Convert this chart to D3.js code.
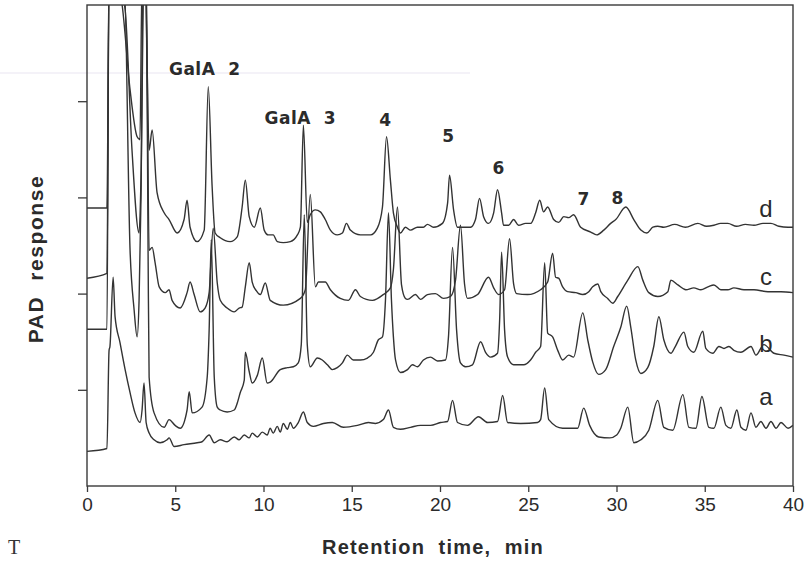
<!DOCTYPE html>
<html>
<head>
<meta charset="utf-8">
<script src="https://cdn.jsdelivr.net/npm/d3@7"></script>
<style>
  body { margin: 0; background: #fff; }
  svg { display: block; }
</style>
</head>
<body>
<svg id="grafico" width="805" height="564"></svg>
<script>
// x axis ticks (min) and the unlabeled response ticks
const timeTicks = [0, 5, 10, 15, 20, 25, 30, 35, 40];
const responseTicks = [1, 2, 3, 4];

// chromatograms, [retention time (min), PAD response (arb.)]
const traceA = [[0,0.36],[1.13,0.39],[1.25,1.41],[1.30,1.45],[1.48,2.17],[1.59,1.76],[1.87,1.49],[2.16,1.21],[2.44,0.97],[2.72,0.76],[3.01,0.66],[3.12,0.79],[3.23,1.07],[3.35,0.66],[3.52,0.55],[3.80,0.48],[4.14,0.45],[4.54,0.48],[4.65,0.50],[4.94,0.41],[5.50,0.43],[6.24,0.45],[6.52,0.46],[6.92,0.53],[7.21,0.45],[7.55,0.48],[7.94,0.46],[8.34,0.51],[8.62,0.48],[8.91,0.53],[9.19,0.50],[9.36,0.55],[9.65,0.51],[9.93,0.56],[10.21,0.53],[10.38,0.60],[10.55,0.55],[10.78,0.62],[10.95,0.56],[11.12,0.65],[11.35,0.59],[11.52,0.66],[11.69,0.60],[11.97,0.66],[12.26,0.77],[12.48,0.66],[12.82,0.62],[13.39,0.65],[13.90,0.66],[14.52,0.61],[15.32,0.63],[15.94,0.66],[16.34,0.65],[16.79,0.69],[17.08,0.79],[17.36,0.61],[17.76,0.59],[18.33,0.61],[18.89,0.63],[19.46,0.63],[20.03,0.66],[20.43,0.67],[20.71,0.89],[20.99,0.66],[21.56,0.63],[22.18,0.72],[22.70,0.66],[23.26,0.67],[23.55,0.94],[23.83,0.66],[24.57,0.65],[25.53,0.66],[25.70,0.69],[25.93,1.02],[26.16,0.69],[26.95,0.60],[27.80,0.60],[28.14,0.81],[28.48,0.63],[28.99,0.51],[29.62,0.50],[30.01,0.53],[30.24,0.60],[30.64,0.82],[30.98,0.45],[31.38,0.48],[31.83,0.58],[32.34,0.89],[32.68,0.61],[33.19,0.58],[33.76,0.95],[34.10,0.61],[34.50,0.60],[34.84,0.93],[35.23,0.61],[35.52,0.60],[35.91,0.82],[36.20,0.63],[36.48,0.60],[36.82,0.79],[37.05,0.61],[37.33,0.58],[37.62,0.76],[37.90,0.61],[38.18,0.67],[38.47,0.60],[38.75,0.67],[39.04,0.60],[39.32,0.66],[39.72,0.60],[40,0.63]];

const traceB = [[0,1.63],[1.13,1.63],[1.25,5.3],[1.87,5.3],[2.10,5.3],[2.44,2.45],[2.67,1.83],[2.84,1.55],[2.95,1.93],[3.06,3.0],[3.18,5.3],[3.35,5.3],[3.46,2.45],[3.52,1.13],[3.80,0.76],[4.37,0.61],[4.65,0.69],[4.99,0.63],[5.28,0.60],[5.67,0.79],[5.79,0.98],[5.96,0.76],[6.52,0.82],[6.81,1.13],[6.92,1.62],[7.04,2.56],[7.21,1.13],[7.38,0.82],[7.55,0.79],[7.94,0.77],[8.34,0.79],[8.51,0.86],[8.68,0.97],[8.91,1.10],[8.97,1.39],[9.19,1.19],[9.36,1.07],[9.65,1.15],[9.93,1.33],[10.21,1.07],[10.38,1.08],[10.95,1.21],[11.35,1.23],[11.69,1.24],[11.97,1.28],[12.14,1.47],[12.31,2.82],[12.48,1.47],[12.65,1.24],[13.05,1.33],[13.33,1.31],[13.62,1.26],[13.90,1.21],[14.18,1.23],[14.47,1.28],[14.75,1.36],[15.09,1.31],[15.49,1.31],[15.89,1.33],[16.23,1.39],[16.51,1.52],[16.74,1.55],[16.91,1.93],[17.08,2.84],[17.25,1.93],[17.36,1.55],[17.48,1.31],[17.76,1.18],[18.16,1.21],[18.44,1.26],[18.72,1.24],[19.06,1.31],[19.46,1.34],[19.86,1.30],[20.31,1.31],[20.48,1.55],[20.71,2.48],[20.94,1.62],[21.16,1.28],[21.45,1.24],[21.84,1.26],[22.30,1.50],[22.58,1.39],[22.87,1.34],[23.26,1.38],[23.38,1.73],[23.49,2.43],[23.66,1.62],[23.83,1.34],[24.17,1.26],[24.74,1.26],[25.13,1.31],[25.42,1.39],[25.70,1.45],[25.93,2.32],[26.10,1.59],[26.38,1.55],[26.67,1.41],[26.95,1.31],[27.29,1.36],[27.57,1.34],[28.09,1.80],[28.37,1.52],[28.65,1.29],[28.99,1.16],[29.39,1.21],[29.84,1.45],[30.24,1.65],[30.58,1.87],[30.81,1.65],[31.09,1.31],[31.38,1.17],[31.77,1.23],[32.11,1.45],[32.40,1.76],[32.68,1.52],[33.08,1.38],[33.33,1.45],[33.82,1.60],[34.04,1.45],[34.38,1.39],[34.89,1.61],[35.06,1.43],[35.46,1.38],[35.80,1.45],[36.09,1.43],[36.37,1.45],[36.65,1.41],[37.05,1.39],[37.62,1.45],[37.90,1.36],[38.35,1.47],[38.92,1.38],[39.49,1.36],[40,1.34]];

const traceC = [[0,2.16],[1.13,2.21],[1.25,5.3],[1.70,5.3],[2.16,4.95],[2.55,3.49],[2.95,2.63],[3.06,3.2],[3.23,5.3],[3.35,5.3],[3.52,2.45],[3.69,2.48],[3.86,2.32],[4.09,2.07],[4.43,2.01],[4.65,2.04],[4.82,1.93],[5.28,1.85],[5.67,2.01],[5.84,2.12],[6.07,1.99],[6.41,1.81],[6.69,1.85],[6.92,2.01],[7.15,2.68],[7.38,2.11],[7.55,1.93],[7.94,1.85],[8.34,1.81],[8.62,1.85],[8.79,1.86],[8.97,2.07],[9.19,2.32],[9.36,2.12],[9.59,2.03],[9.82,1.99],[10.10,2.11],[10.38,1.93],[11.12,1.88],[12.09,1.95],[12.37,2.04],[12.65,3.03],[12.94,2.07],[13.11,2.12],[13.50,2.12],[13.79,2.04],[14.35,1.95],[14.81,1.93],[15.21,2.04],[15.49,1.97],[16.17,1.93],[16.79,1.99],[17.19,2.06],[17.36,2.25],[17.59,2.90],[17.82,2.09],[18.04,1.95],[18.16,1.94],[18.61,1.99],[18.89,1.94],[19.29,1.99],[19.74,2.00],[20.20,1.95],[20.60,1.97],[20.88,2.14],[21.16,2.71],[21.39,2.10],[21.56,1.95],[22.13,1.99],[22.75,2.17],[23.04,2.06],[23.32,1.99],[23.66,2.04],[23.94,2.57],[24.17,2.10],[24.34,2.00],[24.96,1.99],[25.70,2.04],[26.10,2.12],[26.38,2.42],[26.55,2.17],[26.72,2.16],[26.95,2.07],[27.23,2.02],[27.69,2.01],[28.09,1.99],[28.43,2.02],[28.65,2.07],[28.94,2.10],[29.11,2.02],[29.50,1.95],[29.79,1.90],[30.07,1.97],[30.64,2.14],[31.21,2.28],[31.49,2.14],[31.83,2.01],[32.34,1.97],[32.91,2.02],[33.08,2.14],[33.48,2.09],[33.93,2.04],[34.38,2.06],[34.78,2.04],[35.18,2.07],[35.52,2.09],[35.91,2.04],[36.31,2.04],[36.65,2.06],[37.22,2.04],[37.79,2.04],[38.58,2.02],[39.32,2.02],[40,2.01]];

const traceD = [[0,2.89],[1.13,2.89],[1.25,5.3],[1.65,5.3],[1.99,5.0],[2.44,4.12],[2.84,3.63],[3.00,3.60],[3.12,5.3],[3.29,5.3],[3.52,3.49],[3.69,3.70],[3.97,3.05],[4.37,2.84],[4.65,2.77],[5.11,2.63],[5.50,2.77],[5.67,2.97],[5.84,2.69],[6.24,2.54],[6.64,2.66],[6.87,4.15],[7.09,3.11],[7.26,2.63],[7.55,2.58],[8.11,2.54],[8.51,2.59],[8.79,2.90],[8.97,3.18],[9.19,2.80],[9.48,2.69],[9.82,2.89],[10.04,2.66],[10.27,2.61],[10.55,2.61],[10.78,2.54],[11.12,2.53],[11.52,2.54],[11.92,2.61],[12.09,2.69],[12.26,3.75],[12.48,2.74],[12.65,2.82],[12.94,2.87],[13.22,2.85],[13.50,2.77],[13.79,2.66],[14.18,2.61],[14.47,2.63],[14.70,2.73],[14.92,2.66],[15.49,2.61],[16.06,2.61],[16.45,2.68],[16.74,2.90],[16.97,3.63],[17.19,3.18],[17.36,2.84],[17.59,2.69],[17.76,2.63],[18.04,2.69],[18.33,2.66],[18.72,2.69],[19.06,2.69],[19.29,2.72],[19.63,2.69],[20.14,2.73],[20.43,2.94],[20.54,3.23],[20.77,2.87],[20.99,2.69],[21.73,2.69],[22.01,2.77],[22.24,2.99],[22.47,2.80],[22.75,2.73],[23.04,2.84],[23.26,3.08],[23.49,2.84],[23.60,2.71],[23.89,2.71],[24.17,2.77],[24.45,2.71],[24.85,2.73],[25.14,2.73],[25.42,2.84],[25.65,2.97],[25.87,2.85],[26.10,2.90],[26.44,2.77],[26.72,2.74],[27.01,2.80],[27.29,2.79],[27.57,2.82],[27.97,2.69],[28.54,2.64],[28.88,2.61],[29.28,2.66],[29.67,2.73],[29.96,2.77],[30.53,2.90],[30.98,2.77],[31.38,2.66],[31.72,2.63],[32.06,2.69],[32.34,2.70],[32.68,2.69],[33.3,2.72],[33.9,2.69],[34.61,2.73],[35.1,2.70],[35.52,2.71],[35.9,2.73],[36.31,2.73],[36.8,2.70],[37.3,2.72],[37.79,2.71],[38.3,2.73],[38.75,2.73],[39.2,2.70],[39.72,2.69],[40,2.69]];

const traceNames = ["a", "b", "c", "d"];
const traceNameTime = 38.47;
const traceNameLevel = [0.84, 1.39, 2.09, 2.80];

// peak annotations: text, retention time of label centre, response of baseline
const peakLabels = [
    { text: "GalA  2", t: 6.67, v: 4.27 },
    { text: "GalA  3", t: 12.09, v: 3.76 },
    { text: "4", t: 16.91, v: 3.74 },
    { text: "5", t: 20.48, v: 3.58 },
    { text: "6", t: 23.32, v: 3.24 },
    { text: "7", t: 28.14, v: 2.92 },
    { text: "8", t: 30.07, v: 2.93 }
];

desenharGrafico();

function desenharGrafico() {
    const margin = { top: 5, right: 12, bottom: 78, left: 87 };
    const width = 805 - margin.left - margin.right;
    const height = 564 - margin.top - margin.bottom;

    const xScale = d3.scaleLinear().domain([0, 40]).range([0, width]);
    const yScale = d3.scaleLinear().domain([0, 5]).range([height, 0]);

    const svg = d3.select("#grafico");

    // faint scan line across the top of the page
    svg.append("line")
        .attr("x1", 0).attr("x2", 470)
        .attr("y1", 73).attr("y2", 73)
        .attr("stroke", "#f0eef6")
        .attr("stroke-width", 1.5);

    const g = svg.append("g")
        .attr("transform", `translate(${margin.left}, ${margin.top})`);

    g.append("clipPath").attr("id", "area")
        .append("rect")
        .attr("width", width).attr("height", height);

    const line = d3.line()
        .x(d => xScale(d[0]))
        .y(d => yScale(d[1]))
        .curve(d3.curveMonotoneX);

    const traces = [traceA, traceB, traceC, traceD];

    g.append("g")
        .attr("clip-path", "url(#area)")
        .selectAll("path")
        .data(traces)
        .enter()
        .append("path")
        .attr("d", line)
        .attr("fill", "none")
        .attr("stroke", "#333")
        .attr("stroke-width", 1.4)
        .attr("stroke-linejoin", "round");

    // frame
    g.append("rect")
        .attr("width", width).attr("height", height)
        .attr("fill", "none")
        .attr("stroke", "#3a3a3a")
        .attr("stroke-width", 1.4);

    const xAxis = d3.axisBottom(xScale)
        .tickValues(timeTicks)
        .tickSize(6)
        .tickPadding(6);

    const yAxis = d3.axisLeft(yScale)
        .tickValues(responseTicks)
        .tickSize(9)
        .tickFormat("");

    const gx = g.append("g")
        .attr("transform", `translate(0, ${height})`)
        .call(xAxis);
    gx.select(".domain").remove();
    gx.selectAll("line").attr("stroke", "#3a3a3a").attr("stroke-width", 1.3);
    gx.selectAll("text")
        .attr("fill", "#2b2b2b")
        .style("font-family", "'Liberation Sans', Arial, sans-serif")
        .style("font-size", "19px");

    const gy = g.append("g").call(yAxis);
    gy.select(".domain").remove();
    gy.selectAll("line").attr("stroke", "#3a3a3a").attr("stroke-width", 1.3);

    // peak labels
    g.selectAll(".pico")
        .data(peakLabels)
        .enter()
        .append("text")
        .attr("class", "pico")
        .attr("x", d => xScale(d.t))
        .attr("y", d => yScale(d.v))
        .attr("text-anchor", "middle")
        .attr("fill", "#2b2b2b")
        .style("white-space", "pre")
        .style("font-family", "'DejaVu Sans', Arial, sans-serif")
        .style("font-weight", "bold")
        .style("font-size", "17px")
        .style("letter-spacing", "0.5px")
        .text(d => d.text);

    // trace names
    g.selectAll(".nome")
        .data(traceNames)
        .enter()
        .append("text")
        .attr("class", "nome")
        .attr("x", xScale(traceNameTime))
        .attr("y", (d, i) => yScale(traceNameLevel[i]))
        .attr("text-anchor", "middle")
        .attr("fill", "#2b2b2b")
        .style("font-family", "'Liberation Sans', Arial, sans-serif")
        .style("font-size", "24px")
        .text(d => d);

    // axis titles
    svg.append("text")
        .attr("x", 433)
        .attr("y", 554)
        .attr("text-anchor", "middle")
        .attr("fill", "#2b2b2b")
        .style("white-space", "pre")
        .style("font-family", "'Liberation Sans', Arial, sans-serif")
        .style("font-weight", "bold")
        .style("font-size", "20px")
        .style("letter-spacing", "1.2px")
        .text("Retention  time,  min");

    svg.append("text")
        .attr("transform", "translate(43, 259) rotate(-90)")
        .attr("text-anchor", "middle")
        .attr("fill", "#2b2b2b")
        .style("white-space", "pre")
        .style("font-family", "'Liberation Sans', Arial, sans-serif")
        .style("font-weight", "bold")
        .style("font-size", "21px")
        .style("letter-spacing", "1.6px")
        .text("PAD  response");

    svg.append("text")
        .attr("x", 8)
        .attr("y", 554)
        .attr("fill", "#333")
        .style("font-family", "'Liberation Serif', serif")
        .style("font-size", "20px")
        .text("T");
}
</script>
</body>
</html>
